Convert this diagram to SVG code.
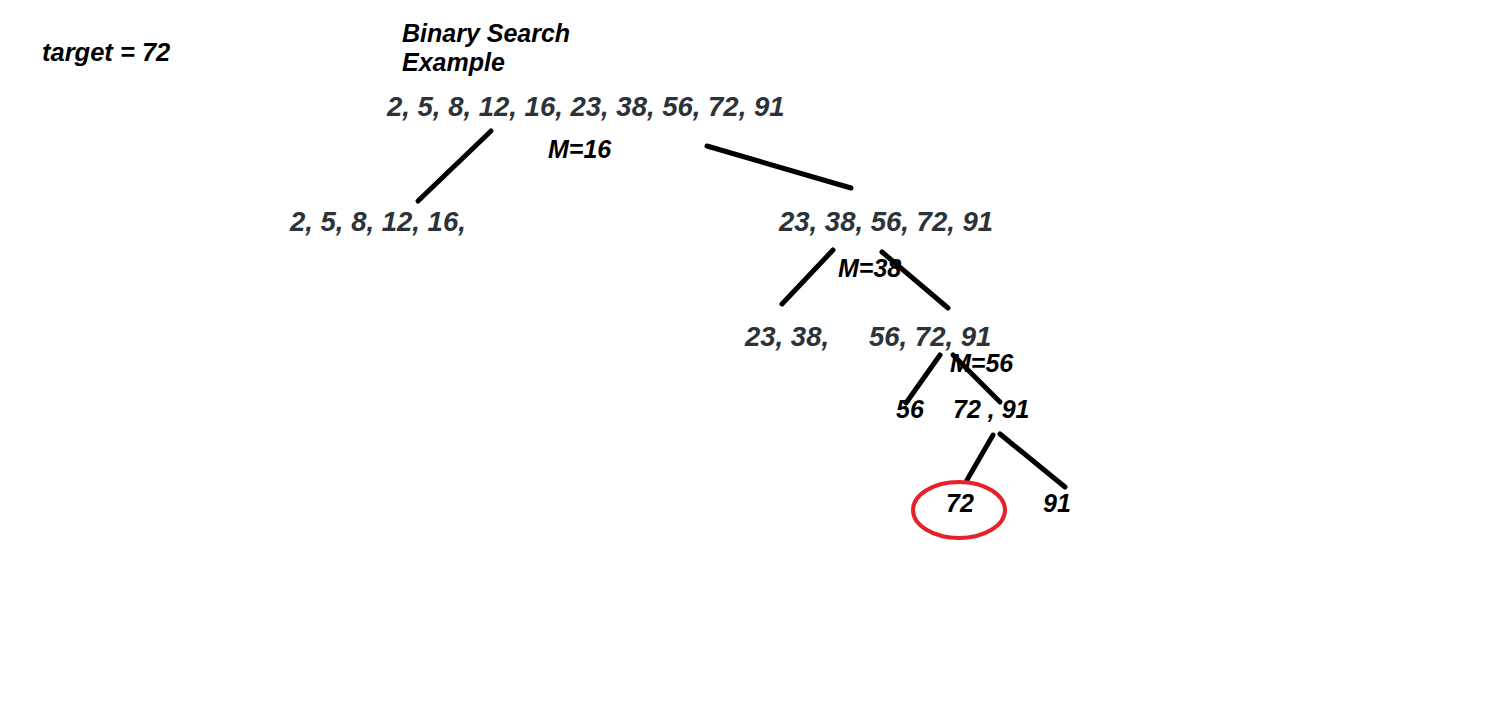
<svg xmlns="http://www.w3.org/2000/svg" width="1489" height="705" viewBox="0 0 1489 705">
<style>
text{font-family:"Liberation Sans",Arial,sans-serif;font-weight:bold;font-style:italic;font-size:25px;fill:#000}
.t{font-size:25.5px}
.l{fill:#2b3238;font-size:27.5px}
.c line{stroke:#000;stroke-width:5;stroke-linecap:round}
</style>
<rect width="1489" height="705" fill="#fff"/>
<g id="title"><text class="t" x="42" y="61">target = 72</text><text x="402" y="42">Binary Search</text><text x="402" y="71">Example</text></g>
<g class="c" id="connectors">
<line x1="491" y1="131" x2="418" y2="201"/>
<line x1="707" y1="146" x2="851" y2="188"/>
<line x1="833" y1="250" x2="782" y2="304"/>
<line x1="882" y1="252" x2="948" y2="308"/>
<line x1="940" y1="355" x2="906" y2="403"/>
<line x1="953" y1="355" x2="1000" y2="402"/>
<line x1="993" y1="435" x2="967" y2="480"/>
<line x1="1000" y1="434" x2="1065" y2="487"/>
</g>
<g id="n0"><text class="l" x="387" y="116">2, 5, 8, 12, 16, 23, 38, 56, 72, 91</text><text x="548" y="158">M=16</text></g>
<g id="n1"><text class="l" x="290" y="231">2, 5, 8, 12, 16,</text></g>
<g id="n2"><text class="l" x="779" y="231">23, 38, 56, 72, 91</text><text x="838" y="277">M=38</text></g>
<g id="n3"><text class="l" x="745" y="346">23, 38,</text></g>
<g id="n4"><text class="l" x="869" y="346">56, 72, 91</text><text x="950" y="372">M=56</text></g>
<g id="n5"><text x="896" y="418">56</text></g>
<g id="n6"><text x="953" y="418">72 , 91</text></g>
<g id="n7"><ellipse cx="959" cy="510" rx="46" ry="28" fill="none" stroke="#e8202a" stroke-width="4"/><text x="946" y="512">72</text></g>
<g id="n8"><text x="1043" y="512">91</text></g>
</svg>
